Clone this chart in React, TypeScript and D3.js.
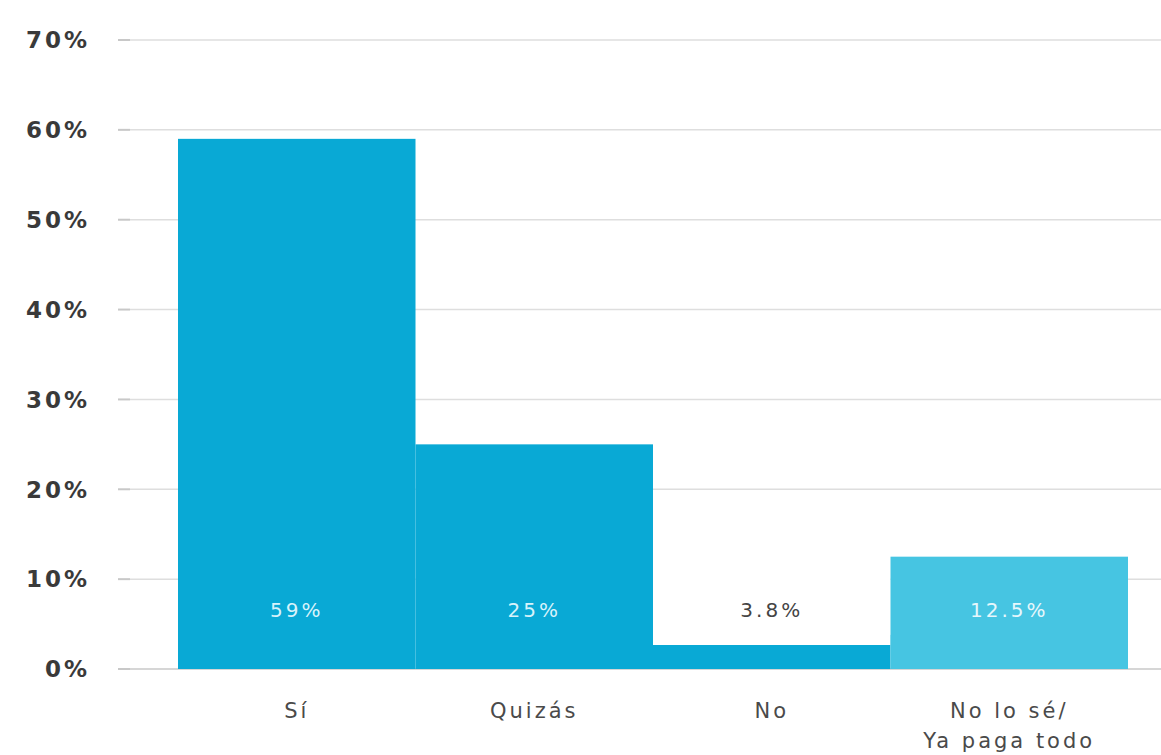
import React from "react";
import * as d3 from "d3";

const categories = ["Sí", "Quizás", "No", "No lo sé/\nYa paga todo"];
const values = [59, 25, 3.8, 12.5];
const valueLabels = ["59%", "25%", "3.8%", "12.5%"];
const yTicks = [0, 10, 20, 30, 40, 50, 60, 70];
const barColors = ["#09a9d5", "#09a9d5", "#09a9d5", "#46c5e2"];
const labelColors = ["#d8f3fb", "#d8f3fb", "#444444", "#e6f7fc"];

const W = 1161;
const H = 755;
const margin = { left: 130, right: 0, top: 40, bottom: 86 };
const barsLeft = 178;
const barsRight = 1128;

export default function App() {
  const y = d3.scaleLinear().domain([0, 70]).range([H - margin.bottom, margin.top]);
  const x = d3.scaleBand<string>().domain(categories).range([barsLeft, barsRight]).padding(0);
  const bw = x.bandwidth();
  const labelY = y(0) - 59;

  return (
    <svg
      width={W}
      height={H}
      style={{ position: "absolute", left: 0, top: 0, background: "#fff" }}
      fontFamily="'DejaVu Sans', 'Open Sans', sans-serif"
    >
      {yTicks.map((t) => (
        <g key={t}>
          <line x1={margin.left} x2={W - margin.right} y1={y(t)} y2={y(t)} stroke={t === 0 ? "#d6d6d6" : "#dedede"} strokeWidth={t === 0 ? 2 : 1.5} />
          <line x1={118} x2={130} y1={y(t)} y2={y(t)} stroke="#c8c8c8" strokeWidth={2} />
          <text x={90} y={y(t)} dy="0.36em" textAnchor="end" fontSize={23} fontWeight={700} letterSpacing={3} fill="#3a3a3a">
            {t + "%"}
          </text>
        </g>
      ))}
      {categories.map((c, i) => (
        <g key={c}>
          <rect
            x={x(c)!}
            y={y(values[i])}
            width={bw}
            height={y(0) - y(values[i])}
            fill={barColors[i]}
          />
          {values[i] < 5 && (
            <rect x={x(c)!} y={labelY - 35} width={bw} height={y(0) - 24 - (labelY - 35)} fill="#ffffff" />
          )}
          <text
            x={x(c)! + bw / 2}
            y={labelY}
            dy="0.36em"
            textAnchor="middle"
            fontSize={20}
            letterSpacing={3}
            fill={labelColors[i]}
          >
            {valueLabels[i]}
          </text>
          {c.split("\n").map((line, j) => (
            <text
              key={j}
              x={x(c)! + bw / 2}
              y={y(0) + 49 + j * 30}
              textAnchor="middle"
              fontSize={21}
              letterSpacing={3}
              fill="#4a4a4a"
            >
              {line}
            </text>
          ))}
        </g>
      ))}
    </svg>
  );
}
